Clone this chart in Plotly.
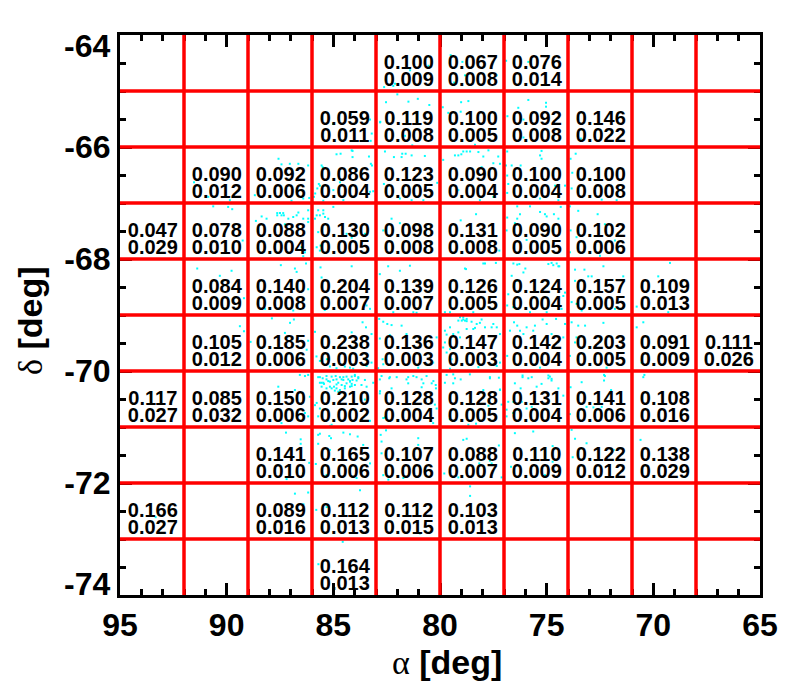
import plotly.graph_objects as go

# Cell edges (deg)
ra_edges = [92, 89, 86, 83, 80, 77, 74, 71, 68]
dec_edges = [-65, -66, -67, -68, -69, -70, -71, -72, -73]
ra_centers = [93.5, 90.5, 87.5, 84.5, 81.5, 78.5, 75.5, 72.5, 69.5, 66.5]
dec_centers = [-64.5, -65.5, -66.5, -67.5, -68.5, -69.5, -70.5, -71.5, -72.5, -73.5]

# Cell values: first row of label in each cell
mean_values = [
    [None, None, None, None, "0.100", "0.067", "0.076", None, None, None],
    [None, None, None, "0.059", "0.119", "0.100", "0.092", "0.146", None, None],
    [None, "0.090", "0.092", "0.086", "0.123", "0.090", "0.100", "0.100", None, None],
    ["0.047", "0.078", "0.088", "0.130", "0.098", "0.131", "0.090", "0.102", None, None],
    [None, "0.084", "0.140", "0.204", "0.139", "0.126", "0.124", "0.157", "0.109", None],
    [None, "0.105", "0.185", "0.238", "0.136", "0.147", "0.142", "0.203", "0.091", "0.111"],
    ["0.117", "0.085", "0.150", "0.210", "0.128", "0.128", "0.131", "0.141", "0.108", None],
    [None, None, "0.141", "0.165", "0.107", "0.088", "0.110", "0.122", "0.138", None],
    ["0.166", None, "0.089", "0.112", "0.112", "0.103", None, None, None, None],
    [None, None, None, "0.164", None, None, None, None, None, None],
]
# Cell values: second row of label in each cell
err_values = [
    [None, None, None, None, "0.009", "0.008", "0.014", None, None, None],
    [None, None, None, "0.011", "0.008", "0.005", "0.008", "0.022", None, None],
    [None, "0.012", "0.006", "0.004", "0.005", "0.004", "0.004", "0.008", None, None],
    ["0.029", "0.010", "0.004", "0.005", "0.008", "0.008", "0.005", "0.006", None, None],
    [None, "0.009", "0.008", "0.007", "0.007", "0.005", "0.004", "0.005", "0.013", None],
    [None, "0.012", "0.006", "0.003", "0.003", "0.003", "0.004", "0.005", "0.009", "0.026"],
    ["0.027", "0.032", "0.006", "0.002", "0.004", "0.005", "0.004", "0.006", "0.016", None],
    [None, None, "0.010", "0.006", "0.006", "0.007", "0.009", "0.012", "0.029", None],
    ["0.027", None, "0.016", "0.013", "0.015", "0.013", None, None, None, None],
    [None, None, None, "0.013", None, None, None, None, None, None],
]

# Stars as (RA, Dec), by declination band
stars_64_66 = [(82.53,-64.46),(81.4,-64.63),(80.54,-64.55),(82.62,-64.93),(82.19,-64.91),(82.11,-64.87),
    (79.5,-64.36),(78.95,-64.48),(78.83,-64.72),(77.34,-64.72),(79.34,-64.85),(76.9,-64.46),(75.86,-64.48),
    (82.0,-65.06),(82.53,-65.2),(81.48,-65.19),(81.04,-65.14),(80.5,-65.25),(82.81,-65.56),(81.64,-65.8),(81.3,-65.97),
    (79.87,-65.29),(79.01,-65.2),(78.67,-65.18),(79.61,-65.39),(79.03,-65.37),(78.36,-65.96),(79.45,-65.57),
    (76.33,-65.3),(75.86,-65.16),(75.03,-65.21),(75.03,-65.28),(76.84,-65.45),(76.09,-65.51),(76.09,-65.83),(73.4,-65.85),
    (83.28,-65.51),(83.2,-65.76),(83.25,-65.89),(84.14,-66.06),(77.73,-66.06),(82.8,-65.55),(85.0,-65.59)]
stars_66_67 = [(84.85,-66.13),(84.66,-66.12),(84.1,-66.07),(84.1,-66.18),(83.33,-66.17),(83.24,-66.3),(83.19,-66.33),
    (85.55,-66.33),(85.5,-66.36),(85.68,-66.66),(85.63,-66.69),(85.75,-66.74),(85.85,-66.83),(85.91,-66.89),(85.0,-66.77),
    (84.69,-66.63),(83.28,-66.8),(83.13,-66.79),(84.53,-66.95),(85.47,-66.96),(87.57,-66.21),(87.43,-66.31),(87.04,-66.3),
    (86.64,-66.3),(86.18,-66.33),(86.96,-66.96),(86.41,-66.92),(86.13,-66.91),(88.68,-66.86),(82.58,-66.08),(82.16,-66.18),
    (81.77,-66.12),(81.61,-66.12),(81.33,-66.15),(80.71,-66.16),(81.8,-66.18),(82.63,-66.66),(81.88,-66.92),(81.33,-66.95),
    (80.78,-66.95),(91.53,-66.63),(90.86,-66.89),(89.85,-66.95),(79.14,-66.15),(78.91,-66.08),(78.75,-66.08),(78.59,-66.08),
    (78.2,-66.09),(77.97,-66.17),(77.27,-66.17),(79.85,-66.23),(78.05,-66.36),(77.5,-66.29),(77.19,-66.3),(79.14,-66.77),
    (77.5,-66.89),(78.13,-66.95),(80.13,-66.64),(79.3,-66.15),(79.0,-66.13),(76.85,-66.08),(75.24,-66.07),(75.31,-66.15),
    (75.24,-66.21),(76.91,-66.33),(76.64,-66.33),(76.22,-66.33),(76.85,-66.51),(76.8,-66.66),(76.85,-66.82),(75.31,-66.92),
    (74.61,-66.69),(74.14,-66.69),(74.45,-66.95),(73.64,-66.12),(73.88,-66.21),(73.8,-66.46),(73.83,-66.74),(71.72,-66.95),(72.42,-66.94)]
stars_67_68 = [(90.63,-67.06),(89.93,-67.07),(89.74,-67.11),(89.25,-67.67),(87.63,-67.18),(87.5,-67.18),(87.35,-67.18),
    (87.63,-67.22),(87.43,-67.22),(87.32,-67.22),(86.64,-67.17),(86.72,-67.22),(86.88,-67.25),(87.11,-67.28),(86.18,-67.13),
    (88.13,-67.28),(88.36,-67.24),(88.63,-67.32),(87.27,-67.38),(86.41,-67.28),(86.18,-67.34),(86.18,-67.28),(86.49,-67.79),
    (86.33,-67.88),(86.41,-67.95),(85.71,-67.13),(85.47,-67.13),(85.0,-67.07),(85.78,-67.22),(85.63,-67.22),(85.39,-67.25),
    (85.24,-67.28),(85.47,-67.19),(85.86,-67.28),(85.71,-67.52),(85.6,-67.76),(85.78,-67.79),(84.38,-67.55),(84.14,-67.62),
    (83.52,-67.55),(85.63,-67.85),(82.27,-67.28),(81.88,-67.36),(82.66,-67.49),(78.31,-67.2),(79.03,-67.31),(77.22,-67.85),
    (76.85,-67.26),(76.38,-67.06),(76.25,-67.2),(75.78,-67.06),(75.31,-67.16),(75.08,-67.2),(74.66,-67.2),(74.34,-67.07),
    (76.38,-67.28),(76.49,-67.36),(74.45,-67.28),(76.88,-67.49),(75.0,-67.24),(75.94,-67.66),(73.91,-67.06),(73.52,-67.14),
    (72.61,-67.2),(73.91,-67.88),(72.5,-67.94),(71.8,-67.67),(72.27,-67.38),(73.88,-67.49),(73.6,-67.61)]
stars_68_69 = [(91.38,-68.17),(90.32,-68.3),(89.77,-68.21),(89.19,-68.7),(87.46,-68.11),(86.8,-68.17),(86.72,-68.23),
    (86.28,-68.08),(86.18,-68.54),(85.6,-68.15),(84.14,-68.13),(85.55,-68.33),(83.44,-68.83),(83.28,-68.89),(85.4,-68.91),
    (82.43,-68.13),(82.82,-68.27),(81.41,-68.12),(81.88,-68.21),(81.25,-68.95),(81.1,-68.96),(82.19,-68.95),(86.88,-68.92),
    (88.2,-68.89),(78.83,-68.17),(77.97,-68.08),(77.38,-68.07),(76.38,-68.1),(76.0,-68.17),(74.77,-68.07),(74.53,-68.08),
    (74.41,-68.13),(72.34,-68.13),(69.22,-68.07),(78.78,-68.18),(77.89,-68.08),(76.56,-68.08),(76.28,-68.09),(74.92,-68.09),
    (74.69,-68.11),(74.45,-68.13),(76.09,-68.24),(76.64,-68.3),(76.41,-68.39),(76.8,-68.63),(74.14,-68.6),(74.22,-68.66),
    (76.85,-68.83),(76.56,-68.86),(75.78,-68.95),(74.3,-68.89),(75.0,-68.95),(73.67,-68.19),(73.23,-68.19),(72.89,-68.31),
    (73.05,-68.31),(71.41,-68.31),(73.83,-68.77),(73.6,-68.8),(73.67,-68.39),(73.36,-68.92),(71.8,-68.89),(69.77,-68.31),
    (70.78,-68.85),(69.3,-68.95),(79.77,-68.95),(79.53,-68.95),(78.44,-68.95)]
stars_69_70 = [(89.38,-69.2),(89.19,-69.29),(87.88,-69.06),(87.03,-69.14),(86.85,-69.08),(87.27,-69.32),(88.88,-69.48),
    (86.18,-69.46),(86.25,-69.62),(86.57,-69.9),(83.63,-69.13),(83.47,-69.22),(85.86,-69.3),(84.14,-69.31),(83.21,-69.34),
    (85.79,-69.74),(85.63,-69.82),(85.16,-69.92),(84.85,-69.95),(84.46,-69.92),(84.22,-69.94),(84.07,-69.96),(85.3,-69.79),
    (83.44,-69.79),(83.21,-69.85),(83.44,-69.91),(82.85,-69.07),(82.66,-69.12),(82.47,-69.16),(82.27,-69.18),(81.8,-69.19),
    (82.82,-69.42),(82.35,-69.36),(81.57,-69.34),(80.16,-69.4),(82.69,-69.79),(82.66,-69.88),(82.9,-69.95),(80.32,-69.85),
    (81.02,-69.94),(79.06,-69.04),(78.91,-69.04),(78.83,-69.1),(78.98,-69.1),(79.14,-69.1),(78.75,-69.07),(79.53,-69.22),
    (79.77,-69.28),(79.38,-69.34),(79.14,-69.31),(78.52,-69.12),(78.05,-69.08),(77.5,-69.16),(77.34,-69.22),(77.89,-69.22),
    (78.44,-69.25),(77.19,-69.34),(79.77,-69.49),(79.85,-69.58),(79.69,-69.67),(79.53,-69.76),(77.19,-69.85),(77.34,-69.91),
    (79.22,-69.55),(79.06,-69.4),(78.75,-69.25),(78.28,-69.16),(78.2,-69.93),(79.53,-69.96),(77.58,-69.22),(79.69,-69.35),
    (79.53,-69.61),(79.46,-69.79),(78.91,-69.08),(78.75,-69.11),(78.36,-69.23),(78.13,-69.14),(76.53,-69.13),(76.38,-69.19),
    (75.94,-69.22),(75.55,-69.19),(75.0,-69.16),(75.19,-69.08),(74.56,-69.07),(74.14,-69.16),(76.72,-69.28),(76.25,-69.28),
    (75.63,-69.28),(76.09,-69.34),(74.77,-69.34),(74.22,-69.4),(76.85,-69.73),(75.31,-69.94),(73.83,-69.13),(73.52,-69.19),
    (72.34,-69.14),(73.2,-69.19),(73.6,-69.4),(73.67,-69.49),(73.91,-69.73),(72.19,-69.94),(70.47,-69.13),(70.78,-69.22),(70.55,-69.85)]
stars_70_71 = [(85.63,-70.11),(85.5,-70.13),(85.32,-70.15),(85.63,-70.21),(85.44,-70.23),(85.16,-70.19),(85.0,-70.16),
    (84.89,-70.09),(84.69,-70.11),(84.53,-70.16),(84.3,-70.15),(84.14,-70.1),(83.99,-70.09),(83.83,-70.11),(84.22,-70.19),
    (84.38,-70.22),(84.61,-70.25),(84.77,-70.21),(84.97,-70.28),(85.16,-70.28),(85.32,-70.31),(85.55,-70.28),(84.1,-70.16),
    (83.91,-70.17),(84.14,-70.23),(84.46,-70.31),(84.69,-70.34),(84.85,-70.31),(83.52,-70.16),(83.13,-70.21),(84.53,-70.11),
    (83.68,-70.25),(85.86,-70.61),(85.63,-70.67),(85.71,-70.81),(85.08,-70.96),(83.44,-70.28),(83.99,-70.25),(84.22,-70.28),
    (84.38,-70.1),(84.85,-70.15),(85.08,-70.1),(85.32,-70.09),(85.47,-70.21),(85.71,-70.11),(85.55,-70.21),(85.24,-70.18),
    (84.85,-70.24),(84.93,-70.35),(84.77,-70.37),(84.46,-70.27),(84.22,-70.18),(83.99,-70.07),(83.83,-70.13),(84.61,-70.15),
    (85.08,-70.31),(84.14,-70.27),(85.78,-70.57),(85.16,-70.98),(83.52,-70.51),(83.28,-70.89),(82.74,-70.09),(82.38,-70.13),
    (82.03,-70.11),(81.57,-70.15),(81.25,-70.09),(80.86,-70.15),(80.63,-70.09),(80.31,-70.18),(80.19,-70.31),(82.58,-70.83),
    (80.24,-70.6),(82.81,-70.36),(79.69,-70.07),(78.6,-70.06),(77.66,-70.11),(77.19,-70.33),(79.54,-70.86),(87.58,-70.28),
    (86.8,-70.34),(86.33,-70.09),(86.18,-70.07),(86.57,-70.07),(86.1,-70.46),(87.43,-70.93),(86.33,-70.75),(86.18,-70.81),
    (82.82,-70.15),(82.35,-70.11),(81.49,-70.11),(81.1,-70.11),(80.78,-70.22),(80.39,-70.22),(82.27,-70.31),(82.82,-70.4),
    (80.86,-70.29),(82.66,-70.84),(80.16,-70.67),(80.32,-70.93),(81.49,-70.22),(79.38,-70.06),(79.3,-70.13),(79.77,-70.21),
    (79.38,-70.22),(79.03,-70.15),(77.66,-70.13),(77.24,-70.12),(77.19,-70.34),(77.97,-70.34),(77.11,-70.6),(78.44,-70.59),
    (77.73,-70.62),(78.67,-70.96),(78.31,-70.94),(80.2,-70.25),(76.13,-70.11),(75.86,-70.13),(75.7,-70.11),(74.85,-70.1),
    (74.92,-70.13),(74.77,-70.17),(76.49,-70.22),(76.22,-70.31),(75.47,-70.28),(75.24,-70.23),(74.45,-70.31),(74.22,-70.44),
    (76.8,-70.55),(76.56,-70.55),(76.88,-70.69),(76.88,-70.81),(76.56,-70.75),(76.33,-70.69),(75.94,-70.67),(75.7,-70.64),
    (76.17,-70.55),(73.88,-70.29),(73.36,-70.2),(72.27,-70.09),(72.31,-70.17),(71.98,-70.34),(73.13,-70.64),(72.81,-70.65),
    (72.42,-70.64),(73.91,-70.77),(73.36,-71.0),(70.42,-70.07),(70.47,-70.11),(76.13,-70.08),(74.92,-70.08),(74.77,-70.14),(72.31,-70.07)]
stars_71_74 = [(87.22,-71.1),(86.53,-71.22),(86.53,-71.3),(87.19,-71.93),(86.13,-71.64),(86.41,-71.83),(85.71,-71.14),
    (85.63,-71.12),(85.19,-71.16),(85.11,-71.2),(84.53,-71.1),(84.22,-71.13),(83.86,-71.17),(85.71,-71.3),(83.6,-71.32),
    (85.16,-71.41),(85.82,-71.66),(83.28,-71.65),(85.32,-71.86),(83.91,-71.91),(82.78,-71.14),(82.53,-71.06),(82.74,-71.26),
    (81.02,-71.2),(81.02,-71.32),(82.74,-71.47),(82.66,-71.86),(81.72,-71.91),(82.42,-71.94),(78.91,-71.23),(78.75,-71.21),
    (77.24,-71.33),(78.16,-71.65),(77.66,-71.6),(77.58,-71.65),(79.8,-71.83),(79.14,-71.9),(77.11,-71.9),(76.49,-71.11),
    (75.63,-71.08),(74.72,-71.34),(74.72,-71.62),(76.67,-71.71),(75.63,-71.59),(75.08,-71.86),(73.83,-71.05),(73.67,-71.21),
    (73.13,-71.29),(73.78,-71.54),(71.86,-71.41),(70.6,-71.23),(86.8,-72.19),(86.18,-72.17),(85.8,-72.48),(85.31,-72.43),
    (83.75,-72.13),(86.4,-72.38),(93.33,-72.61),(84.56,-73.05),(85.7,-73.45),(80.94,-72.9),(78.59,-72.23),(78.59,-72.06),(77.73,-72.57)]

x_major_ticks = [95, 90, 85, 80, 75, 70, 65]
x_major_labels = ["95", "90", "85", "80", "75", "70", "65"]
y_major_ticks = [-64, -66, -68, -70, -72, -74]
y_major_labels = ["", "-66", "-68", "-70", "-72", ""]
y_end_ticks = [-64, -74]
y_end_labels = ["-64", "-74"]

FONT = "Liberation Sans"
stars = stars_64_66 + stars_66_67 + stars_67_68 + stars_68_69 + stars_69_70 + stars_70_71 + stars_71_74

fig = go.Figure()
fig.add_trace(go.Scatter(
    x=[s[0] for s in stars], y=[s[1] for s in stars], mode="markers",
    marker=dict(color="#00ffff", size=2, symbol="square", line=dict(width=0)),
    hoverinfo="skip", showlegend=False))

LABEL_STEP = 0.3
LABEL_NUDGE_X = 0.04
LABEL_NUDGE_Y = 0.02
tx, ty, tt = [], [], []
for i, dec in enumerate(dec_centers):
    for j, ra in enumerate(ra_centers):
        if mean_values[i][j] is not None:
            tx += [ra - LABEL_NUDGE_X, ra - LABEL_NUDGE_X]
            ty += [dec - LABEL_NUDGE_Y, dec - LABEL_NUDGE_Y - LABEL_STEP]
            tt += [mean_values[i][j], err_values[i][j]]
fig.add_trace(go.Scatter(
    x=tx, y=ty, text=tt, mode="text", textposition="middle center",
    textfont=dict(family=FONT, size=20, color="black", weight="bold"),
    hoverinfo="skip", showlegend=False))

for v in ra_edges:
    fig.add_shape(type="line", xref="x", yref="y", x0=v, x1=v, y0=-74, y1=-64,
                  line=dict(color="#ff0000", width=3.5), layer="above")
for v in dec_edges:
    fig.add_shape(type="line", xref="x", yref="y", x0=95, x1=65, y0=v, y1=v,
                  line=dict(color="#ff0000", width=3.5), layer="above")

axis_common = dict(
    showgrid=False, zeroline=False, showline=True, linecolor="black", linewidth=3,
    mirror="ticks", ticks="inside", tickcolor="black", tickwidth=3, ticklen=12,
    tickfont=dict(family=FONT, size=32, color="black", weight="bold"),
    tickmode="array",
)
fig.update_xaxes(
    range=[95, 65], tickvals=x_major_ticks, ticktext=x_major_labels,
    minor=dict(dtick=1, ticks="inside", ticklen=6, tickwidth=3, tickcolor="black", showgrid=False),
    **axis_common)
fig.update_yaxes(
    range=[-74, -64], tickvals=y_major_ticks, ticktext=y_major_labels,
    minor=dict(dtick=0.5, ticks="inside", ticklen=6, tickwidth=3, tickcolor="black", showgrid=False),
    **axis_common)

# End labels sit inside the axis range in the reference
for val, lab, shift in zip(y_end_ticks, y_end_labels, [-11, 11]):
    fig.add_annotation(xref="paper", yref="y", x=0, y=val, text=f"<b>{lab}</b>",
                       xanchor="right", yanchor="middle", xshift=-8, yshift=shift, showarrow=False,
                       font=dict(family=FONT, size=32, color="black"))
serif = "<span style=\"font-family:'Liberation Serif'\">%s</span> <b>[deg]</b>"
fig.add_annotation(xref="paper", yref="paper", x=0.5, y=0, text=serif % "α",
                   xshift=7, yshift=-67, xanchor="center", yanchor="middle", showarrow=False,
                   font=dict(family=FONT, size=34, color="black"))
fig.add_annotation(xref="paper", yref="paper", x=0, y=0.5, text=serif % "δ", textangle=-90,
                   xshift=-90, yshift=-6, xanchor="center", yanchor="middle", showarrow=False,
                   font=dict(family=FONT, size=34, color="black"))
fig.update_layout(
    width=792, height=692, autosize=False,
    margin=dict(l=112, r=40, t=27, b=105, pad=0),
    paper_bgcolor="white", plot_bgcolor="white", showlegend=False)
fig.write_html("out.html")
